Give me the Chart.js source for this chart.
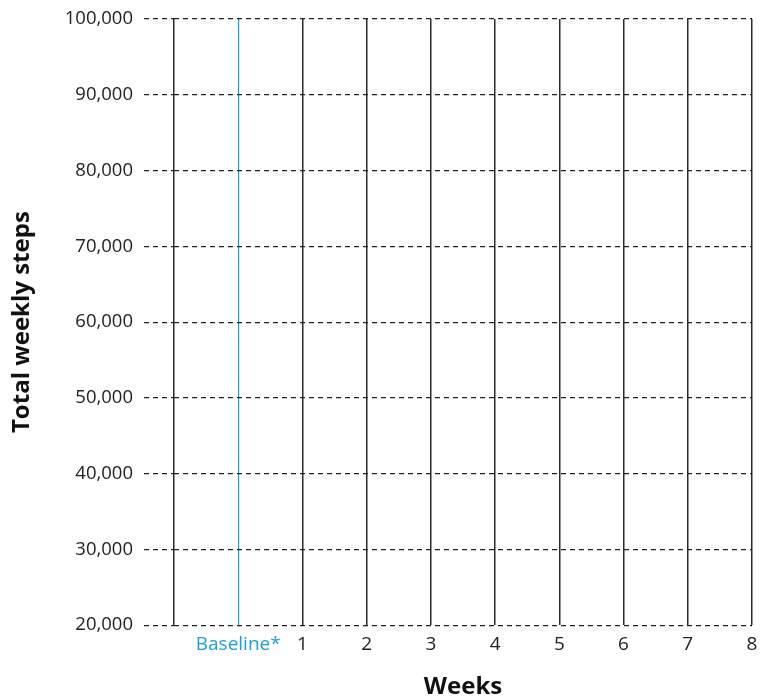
<!DOCTYPE html>
<html>
<head>
<meta charset="utf-8">
<script src="https://cdn.jsdelivr.net/npm/chart.js@4"></script>
<style>
  html, body { margin: 0; padding: 0; background: #fff; }
  #wrap { width: 761px; height: 699px; }
</style>
</head>
<body>
<div id="wrap"><canvas id="stepsChart"></canvas></div>
<script>
  // x categories: first slot is an unlabelled line left of the baseline
  const weekLabels = ["", "Baseline*", "1", "2", "3", "4", "5", "6", "7", "8"];
  // empty template: no step values recorded yet
  const weeklySteps = [null, null, null, null, null, null, null, null, null, null];
  const yMin = 20000;
  const yMax = 100000;
  const yStep = 10000;

  const blue = "#1ba1d8";
  const dark = "#2b2b2b";

  const ctx = document.getElementById("stepsChart").getContext("2d");
  new Chart(ctx, {
    type: "line",
    data: {
      labels: weekLabels,
      datasets: [
        {
          label: "Total weekly steps",
          data: weeklySteps,
          borderColor: dark,
          pointRadius: 0,
        },
      ],
    },
    options: {
      responsive: true,
      maintainAspectRatio: false,
      animation: false,
      layout: {
        padding: { top: 19, right: 9, bottom: 0, left: 0 },
      },
      scales: {
        x: {
          offset: false,
          border: { display: false },
          afterFit: (scale) => {
            // let layout padding decide the right edge, not the "8" label
            scale.paddingLeft = 0;
            scale.paddingRight = 0;
          },
          grid: {
            drawTicks: false,
            color: (c) => (c.index === 1 ? blue : dark),
            lineWidth: (c) => (c.index === 1 ? 1.2 : 1.5),
          },
          ticks: {
            autoSkip: false,
            maxRotation: 0,
            padding: 8,
            color: (c) => (c.index === 1 ? blue : "#222"),
            font: { family: "Open Sans", size: 19, lineHeight: 1.2 },
          },
          title: {
            display: true,
            text: "Weeks",
            color: "#111",
            padding: { top: 11, bottom: 0 },
            font: { family: "Open Sans", size: 24, weight: "bold", lineHeight: 1 },
          },
        },
        y: {
          min: yMin,
          max: yMax,
          border: { display: false, dash: [5, 4] },
          afterFit: (scale) => {
            scale.width = 174;
            scale.paddingTop = 0;
            scale.paddingBottom = 0;
          },
          grid: {
            color: "#222",
            lineWidth: 1.2,
            tickBorderDash: [5, 4],
            tickLength: 30,
            tickColor: "#222",
          },
          ticks: {
            stepSize: yStep,
            padding: 11,
            color: "#222",
            font: { family: "Open Sans", size: 18.5 },
            callback: (v) => v.toLocaleString("en-US"),
          },
          title: {
            display: true,
            text: "Total weekly steps",
            color: "#111",
            padding: { top: 10, bottom: 20 },
            font: { family: "Open Sans", size: 24, weight: "bold", lineHeight: 1 },
          },
        },
      },
      plugins: {
        legend: { display: false },
        tooltip: { enabled: false },
      },
    },
  });
</script>
</body>
</html>
